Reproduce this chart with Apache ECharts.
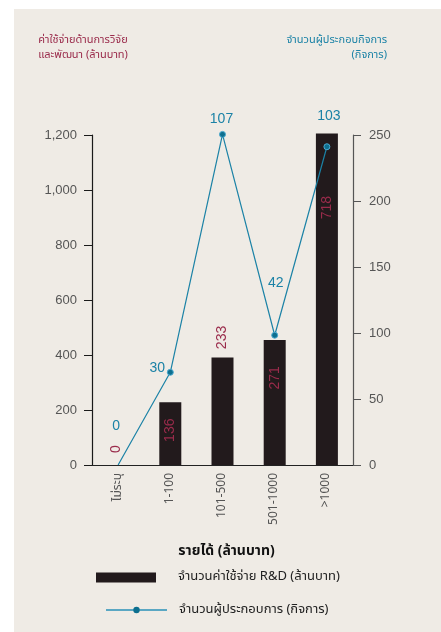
<!DOCTYPE html>
<html>
<head>
<meta charset="utf-8">
<title>ค่าใช้จ่าย R&amp;D และจำนวนผู้ประกอบการ ตามรายได้</title>
<script src="https://cdn.jsdelivr.net/npm/echarts@6/dist/echarts.min.js"></script>
<style>
  html, body { margin: 0; padding: 0; background: #ffffff; }
  #panel { position: absolute; left: 14px; top: 9px; right: 0; bottom: 0; background: #efebe5; }
  #chart { position: absolute; left: 0; top: 0; width: 441px; height: 632px; }
</style>
</head>
<body>
<div id="panel"></div>
<div id="chart"></div>
<script>
// Revenue bands (million baht)
const categories = ['ไม่ระบุ', '1-100', '101-500', '501-1000', '>1000'];
// R&D spending (million baht) per band
const rdSpending = [0, 136, 233, 271, 718];
// Number of enterprises per band
const enterprises = [0, 30, 107, 42, 103];
// Printed axis scales
const leftTicks = { min: 0, max: 1200, step: 200 };
const rightTicks = { min: 0, max: 250, step: 50 };
// Plotting ranges of the two series
const rdRange = { min: 0, max: 715 };
const entRange = { min: 0, max: 106.8 };

const barName = 'จำนวนค่าใช้จ่าย R&D (ล้านบาท)';
const lineName = 'จำนวนผู้ประกอบการ (กิจการ)';

const FONT = '"Noto Sans Thai", "Noto Sans", "Liberation Sans", sans-serif';
const NUMFONT = '"Liberation Sans", "Noto Sans", sans-serif';
const MAROON = '#9a2b4b';
const TEAL = '#1b82a6';

// label placement tweaks per bar (relative to the bar top) and per point
const barLabelPos = [[9, -16], ['50%', 28], ['50%', -20], ['50%', 38], ['50%', 74]];
const lineLabelOffset = [[-2, -23], [-13, 11], [-1, 0], [1, -37], [2, -15]];

const chart = echarts.init(document.getElementById('chart'), null, { renderer: 'canvas' });

chart.setOption({
  backgroundColor: 'transparent',
  animation: false,
  textStyle: { fontFamily: FONT },
  graphic: [
    {
      type: 'text', x: 83, y: 33,
      style: {
        text: 'ค่าใช้จ่ายด้านการวิจัย\nและพัฒนา (ล้านบาท)',
        textAlign: 'center', fill: MAROON,
        font: '11px ' + FONT, lineHeight: 15
      }
    },
    {
      type: 'text', x: 387, y: 33,
      style: {
        text: 'จำนวนผู้ประกอบกิจการ\n(กิจการ)',
        textAlign: 'right', fill: TEAL,
        font: '11px ' + FONT, lineHeight: 15
      }
    }
  ],
  legend: [
    {
      left: 96, top: 571, orient: 'vertical', padding: 0,
      itemWidth: 60, itemHeight: 10,
      icon: 'rect',
      data: [barName],
      textStyle: { fontSize: 13, color: '#222', fontFamily: FONT, padding: [0, 0, 0, 17] }
    },
    {
      left: 105, top: 603.5, orient: 'vertical', padding: 0,
      itemWidth: 61, itemHeight: 8,
      data: [{
        name: lineName,
        lineStyle: { color: '#5aa7c3', width: 2 },
        itemStyle: { color: '#0d6f8f', borderWidth: 0 }
      }],
      textStyle: { fontSize: 13, color: '#222', fontFamily: FONT, padding: [0, 0, 0, 7] }
    }
  ],
  grid: { left: 92, right: 88, top: 135, bottom: 167, containLabel: false },
  xAxis: {
    type: 'category',
    data: categories,
    name: 'รายได้ (ล้านบาท)',
    nameLocation: 'middle',
    nameGap: 80,
    nameTextStyle: { fontSize: 14, fontWeight: 'bold', color: '#111', fontFamily: FONT, padding: [0, 0, 0, 8] },
    axisLine: { lineStyle: { color: '#222', width: 1 } },
    axisTick: { show: false },
    axisLabel: { rotate: 90, color: '#555', fontSize: 12, margin: 8, fontFamily: FONT }
  },
  yAxis: [
    {
      type: 'value', position: 'left',
      min: leftTicks.min, max: leftTicks.max, interval: leftTicks.step,
      axisLine: { show: true, lineStyle: { color: '#1a1a1a', width: 1.2 } },
      axisTick: { show: true, length: 8, lineStyle: { color: '#1a1a1a' } },
      axisLabel: { color: '#555', fontSize: 13, margin: 15, fontFamily: NUMFONT },
      splitLine: { show: false }
    },
    {
      type: 'value', position: 'right',
      min: rightTicks.min, max: rightTicks.max, interval: rightTicks.step,
      axisLine: { show: true, lineStyle: { color: '#555', width: 1.2 } },
      axisTick: { show: true, length: 8, lineStyle: { color: '#555' } },
      axisLabel: { color: '#555', fontSize: 13, margin: 16, fontFamily: NUMFONT },
      splitLine: { show: false }
    },
    {
      type: 'value', position: 'left', show: false,
      min: rdRange.min, max: rdRange.max,
      splitLine: { show: false }
    },
    {
      type: 'value', position: 'right', show: false,
      min: entRange.min, max: entRange.max,
      splitLine: { show: false }
    }
  ],
  series: [
    {
      name: barName,
      type: 'bar',
      yAxisIndex: 2,
      barWidth: 22,
      clip: false,
      itemStyle: { color: '#221a1c' },
      data: rdSpending.map((v, i) => ({
        value: v,
        label: {
          show: true,
          position: barLabelPos[i],
          rotate: 90,
          align: 'center',
          verticalAlign: 'middle',
          color: MAROON,
          fontSize: 14,
          fontFamily: NUMFONT
        }
      })),
      z: 2
    },
    {
      name: lineName,
      type: 'line',
      yAxisIndex: 3,
      clip: false,
      symbol: 'circle',
      symbolSize: 6,
      lineStyle: { color: TEAL, width: 1.2 },
      itemStyle: { color: '#0d6f8f', borderColor: '#4aa9cf', borderWidth: 1 },
      data: enterprises.map((v, i) => ({
        value: v,
        // the zero point carries its label but no visible dot
        itemStyle: v === 0 ? { color: 'transparent', borderColor: 'transparent' } : undefined,
        label: {
          show: true,
          position: 'top',
          offset: lineLabelOffset[i],
          color: TEAL,
          fontSize: 14,
          fontFamily: NUMFONT
        }
      })),
      z: 3
    }
  ]
});
</script>
</body>
</html>
